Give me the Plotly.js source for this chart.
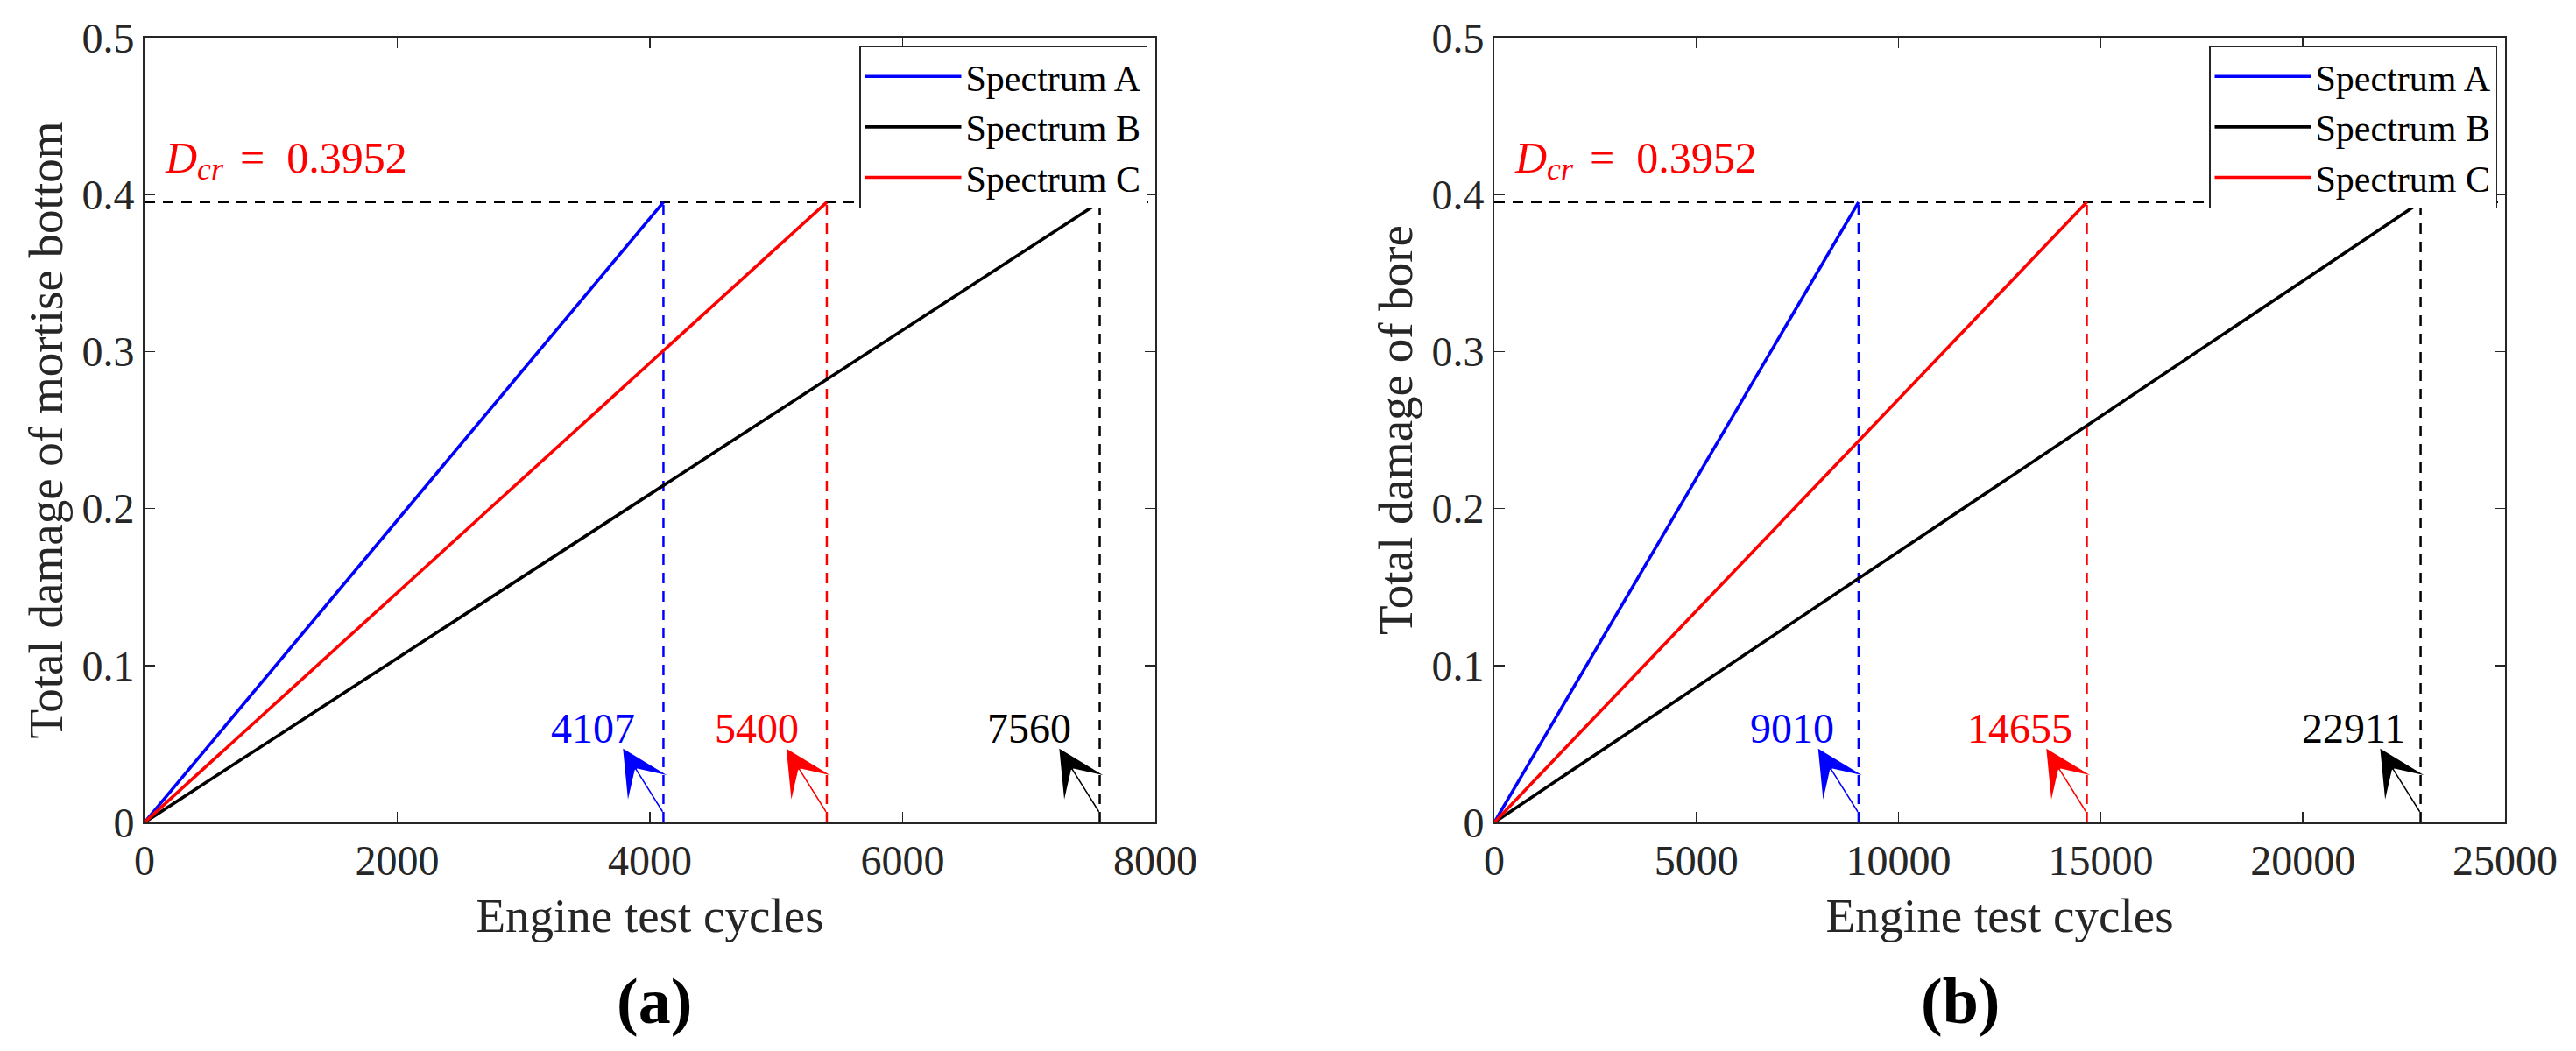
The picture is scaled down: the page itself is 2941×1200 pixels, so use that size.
<!DOCTYPE html>
<html><head><meta charset="utf-8">
<script src="https://cdn.plot.ly/plotly-3.0.1.min.js"></script>
<style>html,body{margin:0;padding:0;background:#fff;} #chart{width:2941px;height:1200px;}</style>
</head><body><div id="chart"></div>
<script>
// ---- data ----
const seriesNames = ['Spectrum A', 'Spectrum B', 'Spectrum C'];
const seriesColors = ['#0000ff', '#000000', '#ff0000'];
const criticalDamage = 0.3952;

// panel (a): mortise bottom
const cyclesPanelA = [[0, 4107], [0, 7560], [0, 5400]];
const damagePanelA = [[0, 0.3952], [0, 0.3952], [0, 0.3952]];
const lifePanelA = [4107, 7560, 5400];
const xTicksPanelA = [0, 2000, 4000, 6000, 8000];

// panel (b): bore
const cyclesPanelB = [[0, 9010], [0, 22911], [0, 14655]];
const damagePanelB = [[0, 0.3952], [0, 0.3952], [0, 0.3952]];
const lifePanelB = [9010, 22911, 14655];
const xTicksPanelB = [0, 5000, 10000, 15000, 20000, 25000];

const yTicks = [0, 0.1, 0.2, 0.3, 0.4, 0.5];

// ---- style ----
const FONT = '"Liberation Serif", "Times New Roman", Times, serif';
const AXC = '#262626';
const panels = [
  {xa: 'x', ya: 'y', xr: [0, 8000], cycles: cyclesPanelA, damage: damagePanelA, life: lifePanelA,
   ticks: xTicksPanelA, legend: 'legend', ytitle: 'Total damage of mortise bottom', tag: '(a)',
   tipOff: 320, textOff: 555, dom: [165/2941, 1319/2941], tagX: 747/2941},
  {xa: 'x2', ya: 'y2', xr: [0, 25000], cycles: cyclesPanelB, damage: damagePanelB, life: lifePanelB,
   ticks: xTicksPanelB, legend: 'legend2', ytitle: 'Total damage of bore', tag: '(b)',
   tipOff: 1000, textOff: 1650, dom: [1706/2941, 2860/2941], tagX: 2238/2941}
];

const traces = [];
const annotations = [];
panels.forEach((p) => {
  // critical horizontal dashed line
  traces.push({x: [p.xr[0], p.xr[1]], y: [criticalDamage, criticalDamage], xaxis: p.xa, yaxis: p.ya,
    mode: 'lines', line: {color: '#000', width: 2.5, dash: '12px,9px'}, showlegend: false, hoverinfo: 'skip'});
  // vertical dashed lines
  p.life.forEach((v, i) => {
    traces.push({x: [v, v], y: [0, criticalDamage], xaxis: p.xa, yaxis: p.ya, mode: 'lines',
      line: {color: seriesColors[i], width: 2.5, dash: '12px,9px'}, showlegend: false, hoverinfo: 'skip'});
  });
  // damage curves
  seriesNames.forEach((name, i) => {
    traces.push({x: p.cycles[i], y: p.damage[i], xaxis: p.xa, yaxis: p.ya, mode: 'lines', name: name,
      line: {color: seriesColors[i], width: 3.6}, legend: p.legend, showlegend: true});
  });
  // life arrows (head near the label) and labels
  p.life.forEach((v, i) => {
    annotations.push({xref: p.xa, yref: p.ya, x: v - p.tipOff, y: 0.047, axref: p.xa, ayref: p.ya,
      ax: v, ay: 0.006, text: '', showarrow: true, arrowhead: 3, arrowsize: 5.8, arrowwidth: 1.5,
      arrowcolor: seriesColors[i], standoff: 0, startstandoff: 0});
    annotations.push({xref: p.xa, yref: p.ya, x: v - p.textOff, y: 0.06, text: String(v), showarrow: false,
      xanchor: 'center', yanchor: 'middle', font: {family: FONT, size: 48, color: seriesColors[i]}});
  });
  // D_cr label: D, subscript cr, "= value"
  const dY = 1 - 180/1200, subY = 1 - 193/1200;
  annotations.push({xref: p.xa + ' domain', yref: 'paper', x: 0, xshift: 22, y: dY, xanchor: 'left',
    yanchor: 'middle', text: '<i>D</i>', showarrow: false, borderpad: 0,
    font: {family: FONT, size: 50, color: '#ff0000'}});
  annotations.push({xref: p.xa + ' domain', yref: 'paper', x: 0, xshift: 59, y: subY, xanchor: 'left',
    yanchor: 'middle', text: '<i>cr</i>', showarrow: false, borderpad: 0,
    font: {family: FONT, size: 36, color: '#ff0000'}});
  annotations.push({xref: p.xa + ' domain', yref: 'paper', x: 0, xshift: 108, y: dY, xanchor: 'left',
    yanchor: 'middle', text: '=\u2002' + criticalDamage.toFixed(4), showarrow: false, borderpad: 0,
    font: {family: FONT, size: 50, color: '#ff0000'}});
  // panel tag
  annotations.push({xref: 'paper', yref: 'paper', x: p.tagX, y: 1 - 1143/1200,
    xanchor: 'center', yanchor: 'middle', text: '<b>' + p.tag + '</b>', showarrow: false,
    font: {family: FONT, size: 74, color: '#000'}});
});

function xaxis(p) {
  return {domain: p.dom, range: p.xr, tickvals: p.ticks, tickformat: 'd', anchor: p.ya,
    showline: true, mirror: 'ticks', linecolor: AXC, linewidth: 2, ticks: 'inside', ticklen: 12,
    tickwidth: 1.5, tickcolor: AXC, showgrid: false, zeroline: false,
    tickfont: {family: FONT, size: 48, color: AXC},
    title: {text: 'Engine test cycles', font: {family: FONT, size: 55, color: AXC}, standoff: 18}};
}
function yaxis(p) {
  return {domain: [1 - 939/1200, 1 - 43/1200], range: [0, 0.5], tickvals: yTicks, anchor: p.xa,
    showline: true, mirror: 'ticks', linecolor: AXC, linewidth: 2, ticks: 'inside', ticklen: 12,
    tickwidth: 1.5, tickcolor: AXC, showgrid: false, zeroline: false,
    tickfont: {family: FONT, size: 48, color: AXC},
    title: {text: p.ytitle, font: {family: FONT, size: 55, color: AXC}, standoff: 4}};
}

function legend(x) {
  return {x: x, xanchor: 'right', y: 1 - 52/1200, yanchor: 'top', bgcolor: '#fff', bordercolor: AXC,
    borderwidth: 1.5, font: {family: FONT, size: 42, color: '#000'}, itemwidth: 110, tracegroupgap: 0};
}

const layout = {
  width: 2941, height: 1200, autosize: false, margin: {l: 0, r: 0, t: 0, b: 0},
  paper_bgcolor: '#fff', plot_bgcolor: '#fff', showlegend: true,
  xaxis: xaxis(panels[0]), yaxis: yaxis(panels[0]),
  xaxis2: xaxis(panels[1]), yaxis2: yaxis(panels[1]),
  legend: legend(1310/2941), legend2: legend(2851/2941),
  annotations: annotations
};

Plotly.newPlot('chart', traces, layout, {displayModeBar: false, staticPlot: true});
</script></body></html>
